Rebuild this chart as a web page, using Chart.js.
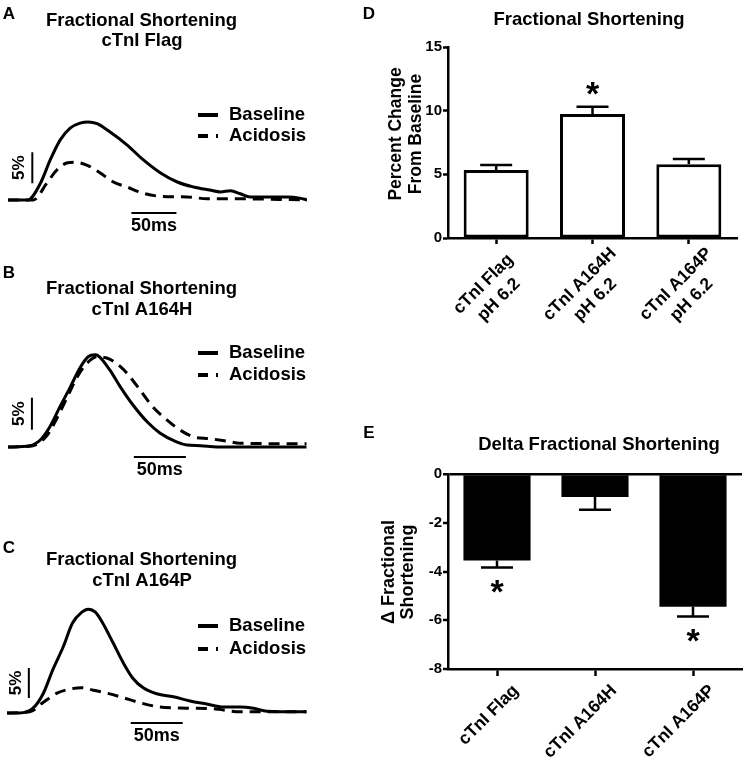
<!DOCTYPE html>
<html><head><meta charset="utf-8">
<script src="https://cdn.jsdelivr.net/npm/chart.js@4.4.1/dist/chart.umd.min.js"></script>
<style>
html,body{margin:0;padding:0;background:#fff;}
#wrap{position:relative;width:744px;height:762px;overflow:hidden;background:#fff;}
canvas{position:absolute;}
</style></head><body><div id="wrap">
<canvas id="cA" width="372" height="250" style="left:0;top:0"></canvas>
<canvas id="cB" width="372" height="250" style="left:0;top:255px"></canvas>
<canvas id="cC" width="372" height="242" style="left:0;top:520px"></canvas>
<canvas id="cD" width="389" height="340" style="left:355px;top:0"></canvas>
<canvas id="cE" width="389" height="352" style="left:355px;top:410px"></canvas>
</div>
<script>
// ---------- DATA ----------
const traceSeries = ['Baseline', 'Acidosis'];
const scalePct = 5;   // 5% scale bar
const scaleMs = 50;   // 50 ms scale bar

// Panel A: cTnI Flag (time in ms, fractional shortening in %)
const aBaseT = [0,22,36,47,58,69,80,89,99,113,132,150,169,188,206,224,236,247,258,269,288,310,324,332];
const aBaseY = [0,0,2.7,6.5,9.7,11.6,12.4,12.6,12.3,11.0,8.9,6.5,4.4,2.9,2.1,1.6,1.3,1.5,1.0,0.5,0.5,0.5,0.3,0];
const aAcidT = [0,28,43,54,66,74,88,102,117,132,150,169,199,221,250,332];
const aAcidY = [0,0,2.7,4.8,6.0,6.1,5.6,4.4,2.9,2.1,1.1,0.6,0.5,0.2,0.2,0];

// Panel B: cTnI A164H
const bBaseT = [0,21,31,40,50,60,69,77,84,88,98,108,120,134,146,162,172,185,201,287];
const bBaseY = [0,0.2,1.1,3.1,6.3,9.4,12.3,14.1,14.4,14.1,12.0,9.4,6.6,3.9,2.2,0.8,0.3,0.2,0,0];
const bAcidT = [0,24,38,47,57,66,76,86,95,104,114,127,139,153,165,178,194,211,223,287];
const bAcidY = [0,0.2,1.9,4.5,7.8,10.8,13.1,14.1,13.9,13.1,11.6,8.9,6.3,4.2,2.7,1.6,1.3,0.9,0.6,0.5];

// Panel C: cTnI A164P
const cBaseT = [0,12,25,35,44,54,63,72,78,85,92,102,112,121,131,144,160,176,192,208,224,237,250,288];
const cBaseY = [0,0,0.8,3.3,7.2,11.0,15.0,16.8,17.3,16.8,15.0,11.7,8.3,5.8,4.2,3.2,2.7,2.0,1.5,1.0,1.0,0.8,0.3,0.2];
const cAcidT = [0,22,35,48,61,72,83,96,109,128,147,173,198,224,288];
const cAcidY = [0,0.2,1.8,3.3,4.0,4.2,3.8,3.3,2.7,1.7,1.0,0.8,0.7,0.2,0.2];

// Panel D: Fractional shortening, percent change from baseline
const dCategories = [['cTnI Flag','pH 6.2'],['cTnI A164H','pH 6.2'],['cTnI A164P','pH 6.2']];
const dValues = [5.35, 9.74, 5.79];
const dSEM = [0.38, 0.57, 0.41];
const dSignificant = [false, true, false];
const dTicks = [0, 5, 10, 15];

// Panel E: Delta fractional shortening
const eCategories = ['cTnI Flag','cTnI A164H','cTnI A164P'];
const eValues = [-3.55, -0.94, -5.45];
const eSEM = [0.29, 0.53, 0.40];
const eSignificant = [true, false, true];
const eTicks = [0, -2, -4, -6, -8];

// ---------- HELPERS ----------
const FONT = '"Liberation Sans", Arial, sans-serif';
function drawText(ctx, s, x, y, size, align, rot, baseline){
  ctx.save();
  ctx.translate(x, y);
  if (rot) ctx.rotate(rot);
  ctx.font = 'bold ' + size + 'px ' + FONT;
  ctx.fillStyle = '#000';
  ctx.textAlign = align || 'center';
  ctx.textBaseline = baseline || 'middle';
  ctx.fillText(s, 0, 0);
  ctx.restore();
}
function drawStar(ctx, x, cy){
  const size = 34;
  drawText(ctx, '*', x, cy + 0.57*size, size, 'center', 0, 'alphabetic');
}

function traceChart(id, cfg){
  const pts = (t, y) => t.map((v, i) => ({x: v, y: y[i]}));
  const line = {borderColor:'#000', pointRadius:0, fill:false, cubicInterpolationMode:'monotone'};
  const datasets = [
    Object.assign({label: traceSeries[0], data: pts(cfg.baseT, cfg.baseY), borderWidth:3}, line),
    Object.assign({label: traceSeries[1], data: pts(cfg.acidT, cfg.acidY), borderWidth:3, borderDash:[11,7]}, line),
    {label:'5%', data:[{x:cfg.pctBar.x, y:cfg.pctBar.y},{x:cfg.pctBar.x, y:cfg.pctBar.y + scalePct}], borderColor:'#000', borderWidth:2, pointRadius:0},
    {label:'50ms', data:[{x:cfg.msBar.x, y:cfg.msBar.y},{x:cfg.msBar.x + scaleMs, y:cfg.msBar.y}], borderColor:'#000', borderWidth:2, pointRadius:0}
  ];
  const deco = {
    id: 'deco' + id,
    afterDraw(chart){
      const ctx = chart.ctx, xs = chart.scales.x, ys = chart.scales.y;
      drawText(ctx, cfg.letter, 9, cfg.letterY, 17);
      drawText(ctx, 'Fractional Shortening', 141.5, cfg.titleY[0], 18.5);
      drawText(ctx, cfg.subtitle, 142, cfg.titleY[1], 18.5);
      // legend
      ctx.save();
      ctx.strokeStyle = '#000'; ctx.lineWidth = 4;
      ctx.beginPath(); ctx.moveTo(198, cfg.legendY[0]); ctx.lineTo(218, cfg.legendY[0]); ctx.stroke();
      ctx.setLineDash([10,8]);
      ctx.beginPath(); ctx.moveTo(198, cfg.legendY[1]); ctx.lineTo(218, cfg.legendY[1]); ctx.stroke();
      ctx.restore();
      drawText(ctx, traceSeries[0], 229, cfg.legendY[0], 18.5, 'left');
      drawText(ctx, traceSeries[1], 229, cfg.legendY[1], 18.5, 'left');
      // scale bar labels
      const px = xs.getPixelForValue(cfg.pctBar.x);
      const py = (ys.getPixelForValue(cfg.pctBar.y) + ys.getPixelForValue(cfg.pctBar.y + scalePct)) / 2;
      drawText(ctx, '5%', px - 13, py, 17, 'center', -Math.PI/2);
      const mx = (xs.getPixelForValue(cfg.msBar.x) + xs.getPixelForValue(cfg.msBar.x + scaleMs)) / 2;
      const my = ys.getPixelForValue(cfg.msBar.y);
      drawText(ctx, '50ms', mx, my + 13, 18);
    }
  };
  return new Chart(document.getElementById(id), {
    type: 'line',
    data: {datasets},
    options: {
      responsive:false, animation:false, events:[],
      layout:{padding:cfg.pad},
      plugins:{legend:{display:false}, tooltip:{enabled:false}},
      scales:{
        x:{type:'linear', display:false, min:0, max:cfg.xMax},
        y:{type:'linear', display:false, min:cfg.yMin, max:cfg.yMax}
      }
    },
    plugins:[deco]
  });
}

traceChart('cA', {
  baseT:aBaseT, baseY:aBaseY, acidT:aAcidT, acidY:aAcidY,
  xMax:332, yMin:-3.23, yMax:16.13, pad:{left:8, right:65, top:100, bottom:30},
  pctBar:{x:27, y:2.7}, msBar:{x:137, y:-2.1},
  letter:'A', letterY:14, subtitle:'cTnI Flag', titleY:[21,41], legendY:[115,136]
});
traceChart('cB', {
  baseT:bBaseT, baseY:bBaseY, acidT:bAcidT, acidY:bAcidY,
  xMax:287.5, yMin:-4.375, yMax:18.28, pad:{left:8, right:65, top:75, bottom:30},
  pctBar:{x:23, y:2.7}, msBar:{x:121, y:-1.56},
  letter:'B', letterY:18, subtitle:'cTnI A164H', titleY:[34,55], legendY:[98,120]
});
traceChart('cC', {
  baseT:cBaseT, baseY:cBaseY, acidT:cAcidT, acidY:cAcidY,
  xMax:288.5, yMin:-4.5, yMax:20.5, pad:{left:7, right:65, top:70, bottom:22},
  pctBar:{x:21, y:2.5}, msBar:{x:119, y:-1.67},
  letter:'C', letterY:28, subtitle:'cTnI A164P', titleY:[40,61], legendY:[106,129]
});

// ---------- BAR CHARTS ----------
const errorBars = {
  id:'errorBars',
  afterDatasetsDraw(chart, args, o){
    const meta = chart.getDatasetMeta(0), ys = chart.scales.y, ctx = chart.ctx;
    const vals = chart.data.datasets[0].data;
    ctx.save();
    ctx.strokeStyle = '#000'; ctx.lineWidth = 2.5;
    meta.data.forEach((bar, i) => {
      const v = vals[i], e = o.errors[i];
      const yv = ys.getPixelForValue(v), ye = ys.getPixelForValue(v + Math.sign(v) * e);
      ctx.beginPath();
      ctx.moveTo(bar.x, yv); ctx.lineTo(bar.x, ye);
      ctx.moveTo(bar.x - 16, ye); ctx.lineTo(bar.x + 16, ye);
      ctx.stroke();
      if (o.sig[i]) drawStar(ctx, bar.x, ye + (v > 0 ? -21 : 16));
    });
    ctx.restore();
  }
};
const tickFont = {family:FONT, size:15, weight:'bold'};

new Chart(document.getElementById('cD'), {
  type:'bar',
  data:{labels:dCategories.map(c => c.join(' ')), datasets:[{
    data:dValues, backgroundColor:'#fff', borderColor:'#000', borderWidth:3, borderSkipped:false,
    barPercentage:0.675, categoryPercentage:1
  }]},
  options:{
    responsive:false, animation:false, events:[],
    layout:{padding:{top:47, right:7, left:0, bottom:0}},
    plugins:{legend:{display:false}, tooltip:{enabled:false}, errorBars:{errors:dSEM, sig:dSignificant}},
    scales:{
      x:{grid:{offset:false, drawOnChartArea:false, drawTicks:true, tickLength:6, tickColor:'#000', tickWidth:2.5},
         border:{display:true, color:'#000', width:2.5}, ticks:{display:false},
         afterFit(s){ s.height = 102; }},
      y:{min:0, max:15, afterBuildTicks(s){ s.ticks = dTicks.map(v => ({value:v})); },
         ticks:{color:'#000', font:tickFont, padding:1},
         grid:{drawOnChartArea:false, tickLength:5, tickColor:'#000', tickWidth:2.5},
         border:{display:true, color:'#000', width:2.5},
         afterFit(s){ s.width = 93; }}
    }
  },
  plugins:[errorBars, {
    id:'decoD',
    afterDraw(chart){
      const ctx = chart.ctx, xs = chart.scales.x, ca = chart.chartArea;
      drawText(ctx, 'D', 14, 14, 17);
      drawText(ctx, 'Fractional Shortening', 234, 20, 18.5);
      ctx.save(); ctx.translate(51, 134); ctx.rotate(-Math.PI/2);
      drawText(ctx, 'Percent Change', 0, -10, 17.5);
      drawText(ctx, 'From Baseline', 0, 10, 17.5);
      ctx.restore();
      dCategories.forEach((lines, i) => {
        const x = xs.getPixelForValue(i);
        ctx.save(); ctx.translate(x - 5, ca.bottom + 54); ctx.rotate(-Math.PI/4);
        drawText(ctx, lines[0], 0, -11, 17.5);
        drawText(ctx, lines[1], 0, 11, 17.5);
        ctx.restore();
      });
    }
  }]
});

new Chart(document.getElementById('cE'), {
  type:'bar',
  data:{labels:eCategories, datasets:[{
    data:eValues, backgroundColor:'#000', borderWidth:0,
    barPercentage:0.685, categoryPercentage:1
  }]},
  options:{
    responsive:false, animation:false, events:[],
    layout:{padding:{top:64, right:2, left:0, bottom:0}},
    plugins:{legend:{display:false}, tooltip:{enabled:false}, errorBars:{errors:eSEM, sig:eSignificant}},
    scales:{
      x:{grid:{offset:false, drawOnChartArea:false, drawTicks:true, tickLength:7, tickColor:'#000', tickWidth:2.5},
         border:{display:true, color:'#000', width:2.5}, ticks:{display:false},
         afterFit(s){ s.height = 93; }},
      y:{min:-8, max:0, afterBuildTicks(s){ s.ticks = eTicks.slice().reverse().map(v => ({value:v})); },
         ticks:{color:'#000', font:tickFont, padding:1},
         grid:{drawOnChartArea:true, tickLength:5, tickColor:'#000', tickWidth:2.5,
               color:c => (c.tick && c.tick.value === 0) ? '#000' : 'rgba(0,0,0,0)',
               lineWidth:c => (c.tick && c.tick.value === 0) ? 2.5 : 0},
         border:{display:true, color:'#000', width:2.5},
         afterFit(s){ s.width = 93; }}
    }
  },
  plugins:[errorBars, {
    id:'decoE',
    afterDraw(chart){
      const ctx = chart.ctx, xs = chart.scales.x, ca = chart.chartArea;
      drawText(ctx, 'E', 14, 23, 17);
      drawText(ctx, 'Delta Fractional Shortening', 244, 35, 18.5);
      ctx.save(); ctx.translate(43.5, 162); ctx.rotate(-Math.PI/2);
      drawText(ctx, '\u0394 Fractional', 0, -9.5, 18);
      drawText(ctx, 'Shortening', 0, 9.5, 18);
      ctx.restore();
      eCategories.forEach((label, i) => {
        const x = xs.getPixelForValue(i);
        drawText(ctx, label, x + 19, ca.bottom + 19, 17.5, 'right', -Math.PI/4);
      });
    }
  }]
});
</script>
</body></html>
